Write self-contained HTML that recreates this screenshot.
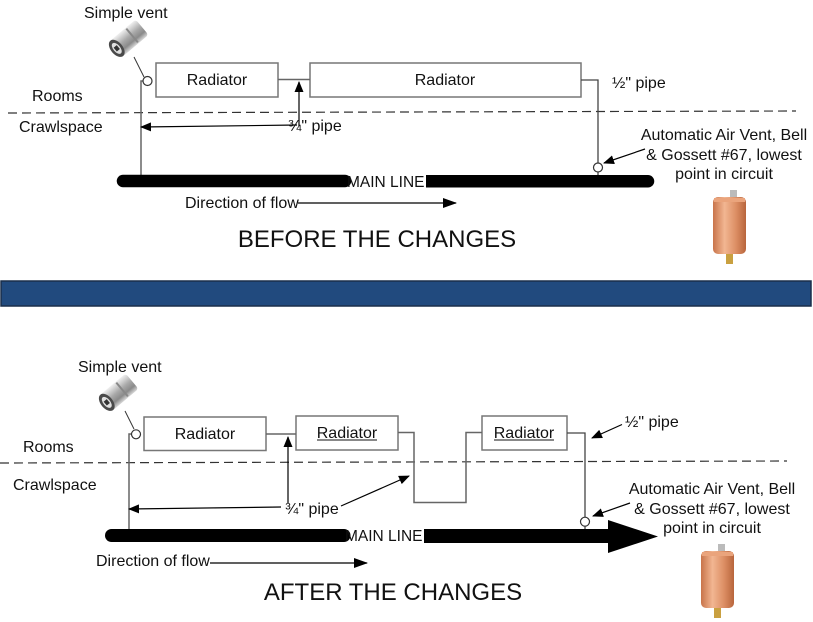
<!DOCTYPE html>
<html><head><meta charset="utf-8"><style>
html,body{margin:0;padding:0;background:#fff;}
svg{display:block;}
text{font-family:"Liberation Sans",Arial,sans-serif;fill:#111;}
</style></head><body>
<svg width="813" height="622" viewBox="0 0 813 622" xmlns="http://www.w3.org/2000/svg">
<defs>
<marker id="ah" markerWidth="11" markerHeight="9" refX="10" refY="4.5" orient="auto" markerUnits="userSpaceOnUse"><path d="M0,0 L11,4.5 L0,9 Z" fill="#000"/></marker>
<marker id="ah2" markerWidth="14" markerHeight="10" refX="13" refY="5" orient="auto" markerUnits="userSpaceOnUse"><path d="M0,0 L14,5 L0,10 Z" fill="#000"/></marker>
<linearGradient id="silver" x1="0" y1="0" x2="0" y2="1"><stop offset="0" stop-color="#f0f0f0"/><stop offset="0.45" stop-color="#a8a8a8"/><stop offset="0.75" stop-color="#8a8a8a"/><stop offset="1" stop-color="#d8d8d8"/></linearGradient>
<linearGradient id="copper" x1="0" y1="0" x2="1" y2="0"><stop offset="0" stop-color="#c8744a"/><stop offset="0.35" stop-color="#f2b692"/><stop offset="0.7" stop-color="#dc8e64"/><stop offset="1" stop-color="#b8653c"/></linearGradient>
<g id="svent">
  <g transform="rotate(-40 0 0)">
    <rect x="0" y="-10" width="34" height="20" rx="3" fill="url(#silver)"/>
    <rect x="20" y="-9" width="2" height="18" fill="#888"/>
    <ellipse cx="1" cy="0" rx="6" ry="10" fill="#4a4a4a"/>
    <ellipse cx="1" cy="0" rx="3.5" ry="6.5" fill="#e0e0e0"/>
    <rect x="-1" y="-2.5" width="4" height="5" fill="#333"/>
  </g>
</g>
<g id="avent">
  <rect x="17" y="0" width="7" height="9" fill="#bbb"/>
  <rect x="0" y="7" width="33" height="57" rx="5" fill="url(#copper)"/>
  <rect x="1" y="8" width="31" height="4" fill="#eaa47c"/>
  <rect x="13" y="64" width="7" height="10" fill="#c9a040"/>
</g>
</defs>

<!-- ===== TOP (BEFORE) ===== -->
<text x="84" y="18" font-size="16">Simple vent</text>
<use href="#svent" x="116" y="49"/>
<line x1="134" y1="57" x2="144" y2="77" stroke="#333" stroke-width="1"/>

<line x1="8" y1="113" x2="796" y2="111" stroke="#333" stroke-width="1.2" stroke-dasharray="9,5"/>
<text x="32" y="101" font-size="16">Rooms</text>
<text x="19" y="132" font-size="16">Crawlspace</text>

<rect x="156" y="63" width="122" height="34" fill="#fff" stroke="#777" stroke-width="1.5"/>
<text x="217" y="85" font-size="16" text-anchor="middle">Radiator</text>
<rect x="310" y="63" width="271" height="34" fill="#fff" stroke="#777" stroke-width="1.5"/>
<text x="445" y="85" font-size="16" text-anchor="middle">Radiator</text>
<line x1="278" y1="79.5" x2="310" y2="79.5" stroke="#666" stroke-width="1.5"/>

<polyline points="152,81 141,81 141,175" fill="none" stroke="#666" stroke-width="1.5"/>
<circle cx="147.5" cy="81" r="4.5" fill="#fff" stroke="#333" stroke-width="1.2"/>

<polyline points="581,80 598,80 598,163" fill="none" stroke="#444" stroke-width="1.3"/>
<line x1="598" y1="172" x2="598" y2="176" stroke="#444" stroke-width="1.3"/>
<circle cx="598" cy="167.5" r="4.5" fill="#fff" stroke="#333" stroke-width="1.2"/>

<line x1="299" y1="126" x2="299" y2="82" stroke="#000" stroke-width="1.2" marker-end="url(#ah)"/>
<line x1="297" y1="125" x2="141" y2="127" stroke="#000" stroke-width="1.2" marker-end="url(#ah)"/>
<text x="288" y="131" font-size="16">¾" pipe</text>
<text x="612" y="88" font-size="16">½" pipe</text>

<line x1="123" y1="181" x2="345" y2="181" stroke="#000" stroke-width="12.5" stroke-linecap="round"/>
<rect x="426" y="175" width="222" height="12.5" fill="#000"/>
<circle cx="648" cy="181.25" r="6.25" fill="#000"/>
<text x="347" y="187" font-size="15.5">MAIN LINE</text>

<text x="185" y="208" font-size="16">Direction of flow</text>
<line x1="298" y1="203" x2="456" y2="203" stroke="#000" stroke-width="1.2" marker-end="url(#ah2)"/>

<text x="377" y="247" font-size="24" text-anchor="middle">BEFORE THE CHANGES</text>

<text x="724" y="140" font-size="16" text-anchor="middle">Automatic Air Vent, Bell</text>
<text x="724" y="160" font-size="16" text-anchor="middle">&amp; Gossett #67, lowest</text>
<text x="724" y="179" font-size="16" text-anchor="middle">point in circuit</text>
<line x1="645" y1="149" x2="604" y2="163" stroke="#000" stroke-width="1.2" marker-end="url(#ah)"/>
<use href="#avent" x="713" y="190"/>

<!-- ===== BLUE BAR ===== -->
<rect x="1" y="281" width="810" height="25" fill="#214a7e" stroke="#1a2e4a" stroke-width="1.5"/>

<!-- ===== BOTTOM (AFTER) ===== -->
<text x="78" y="372" font-size="16">Simple vent</text>
<use href="#svent" x="106" y="403"/>
<line x1="125" y1="411" x2="134" y2="429" stroke="#333" stroke-width="1"/>

<line x1="0" y1="463" x2="787" y2="461" stroke="#333" stroke-width="1.2" stroke-dasharray="9,5"/>
<text x="23" y="452" font-size="16">Rooms</text>
<text x="13" y="490" font-size="16">Crawlspace</text>

<rect x="144" y="417" width="122" height="33.5" fill="#fff" stroke="#777" stroke-width="1.5"/>
<text x="205" y="439" font-size="16" text-anchor="middle">Radiator</text>
<rect x="296" y="416" width="102" height="34" fill="#fff" stroke="#777" stroke-width="1.5"/>
<text x="347" y="438" font-size="16" text-anchor="middle">Radiator</text>
<line x1="317" y1="440" x2="377" y2="440" stroke="#111" stroke-width="1"/>
<rect x="482" y="416" width="85" height="34" fill="#fff" stroke="#777" stroke-width="1.5"/>
<text x="524" y="438" font-size="16" text-anchor="middle">Radiator</text>
<line x1="494" y1="440" x2="554" y2="440" stroke="#111" stroke-width="1"/>

<line x1="266" y1="434" x2="296" y2="434" stroke="#666" stroke-width="1.5"/>
<polyline points="398,432.5 414,432.5 414,502.5 466,502.5 466,432.5 482,432.5" fill="none" stroke="#666" stroke-width="1.5"/>

<polyline points="131,434 129,434 129,529" fill="none" stroke="#666" stroke-width="1.5"/>
<circle cx="136" cy="434.3" r="4.5" fill="#fff" stroke="#333" stroke-width="1.2"/>

<polyline points="567,433 585,433 585,517" fill="none" stroke="#444" stroke-width="1.3"/>
<line x1="585" y1="526" x2="585" y2="530" stroke="#444" stroke-width="1.3"/>
<circle cx="585" cy="521.7" r="4.5" fill="#fff" stroke="#333" stroke-width="1.2"/>

<line x1="288" y1="503" x2="288" y2="437" stroke="#000" stroke-width="1.2" marker-end="url(#ah)"/>
<line x1="281" y1="507" x2="129" y2="509" stroke="#000" stroke-width="1.2" marker-end="url(#ah)"/>
<line x1="341" y1="506" x2="409" y2="476" stroke="#000" stroke-width="1.2" marker-end="url(#ah)"/>
<text x="285" y="514" font-size="16">¾" pipe</text>

<text x="625" y="427" font-size="16">½" pipe</text>
<line x1="622" y1="424.5" x2="592" y2="438" stroke="#000" stroke-width="1.2" marker-end="url(#ah)"/>

<line x1="111.5" y1="535.5" x2="344" y2="535.5" stroke="#000" stroke-width="13" stroke-linecap="round"/>
<rect x="424" y="529" width="186" height="14" fill="#000"/>
<polygon points="608,520 658,536.5 608,553" fill="#000"/>
<text x="345" y="541" font-size="15.5">MAIN LINE</text>

<text x="96" y="566" font-size="16">Direction of flow</text>
<line x1="210" y1="563" x2="367" y2="563" stroke="#000" stroke-width="1.2" marker-end="url(#ah2)"/>

<text x="393" y="600" font-size="24" text-anchor="middle">AFTER THE CHANGES</text>

<text x="712" y="494" font-size="16" text-anchor="middle">Automatic Air Vent, Bell</text>
<text x="712" y="514" font-size="16" text-anchor="middle">&amp; Gossett #67, lowest</text>
<text x="712" y="533" font-size="16" text-anchor="middle">point in circuit</text>
<line x1="630" y1="503" x2="593" y2="516" stroke="#000" stroke-width="1.2" marker-end="url(#ah)"/>
<use href="#avent" x="701" y="544"/>
</svg>
</body></html>
